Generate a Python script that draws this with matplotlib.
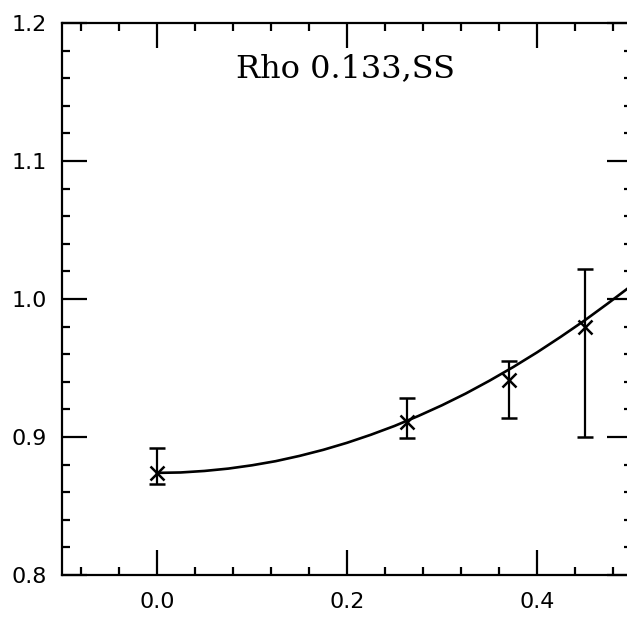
import matplotlib
matplotlib.use("Agg")
import matplotlib.pyplot as plt
from matplotlib.ticker import MultipleLocator

# Data points
x_pts = [0.0, 0.263, 0.370, 0.451]
y_pts = [0.874, 0.911, 0.941, 0.980]
y_err_lo = [0.008, 0.012, 0.027, 0.080]
y_err_hi = [0.018, 0.017, 0.014, 0.042]

# Fit curve
curve_x = [0.0, 0.025, 0.05, 0.075, 0.10, 0.125, 0.15, 0.175, 0.20, 0.225, 0.25,
           0.275, 0.30, 0.325, 0.35, 0.375, 0.40, 0.425, 0.45, 0.475, 0.50]
curve_y = [0.874, 0.8743, 0.8754, 0.8771, 0.8795, 0.8825, 0.8863, 0.8907, 0.8958,
           0.9016, 0.9080, 0.9152, 0.9230, 0.9315, 0.9408, 0.9507, 0.9613, 0.9726,
           0.9844, 0.9970, 1.0100]

title_text = "Rho 0.133,SS"
x_ticks = [0.0, 0.2, 0.4]
x_ticklabels = ["0.0", "0.2", "0.4"]
y_ticks = [0.8, 0.9, 1.0, 1.1, 1.2]
y_ticklabels = ["0.8", "0.9", "1.0", "1.1", "1.2"]

fig = plt.figure(figsize=(6.27, 6.17), dpi=100)
ax = fig.add_axes([62/627, 42/617, 570/627, 552/617])

ax.plot(curve_x, curve_y, color="black", lw=1.9)
ax.errorbar(x_pts, y_pts, yerr=[y_err_lo, y_err_hi], fmt="x", color="black",
            ms=10, mew=1.8, elinewidth=1.6, capsize=6, capthick=1.6)

ax.set_xlim(-0.1, 0.5)
ax.set_ylim(0.8, 1.2)
ax.set_xticks(x_ticks)
ax.set_xticklabels(x_ticklabels)
ax.set_yticks(y_ticks)
ax.set_yticklabels(y_ticklabels)
ax.xaxis.set_minor_locator(MultipleLocator(0.04))
ax.yaxis.set_minor_locator(MultipleLocator(0.02))

ax.tick_params(which="both", direction="in", top=True, right=True, width=1.6, colors="black")
ax.tick_params(which="major", length=18)
ax.tick_params(which="minor", length=5.5)
ax.tick_params(axis="x", which="major", pad=12.5, labelsize=16)
ax.tick_params(axis="y", which="major", pad=11, labelsize=16)
for lab in ax.get_xticklabels() + ax.get_yticklabels():
    lab.set_family("DejaVu Sans")
for s in ax.spines.values():
    s.set_linewidth(1.6)

ax.text(0.198, 1.167, title_text, ha="center", va="center",
        fontsize=23, family="DejaVu Serif")

fig.savefig("out.png", dpi=100)
